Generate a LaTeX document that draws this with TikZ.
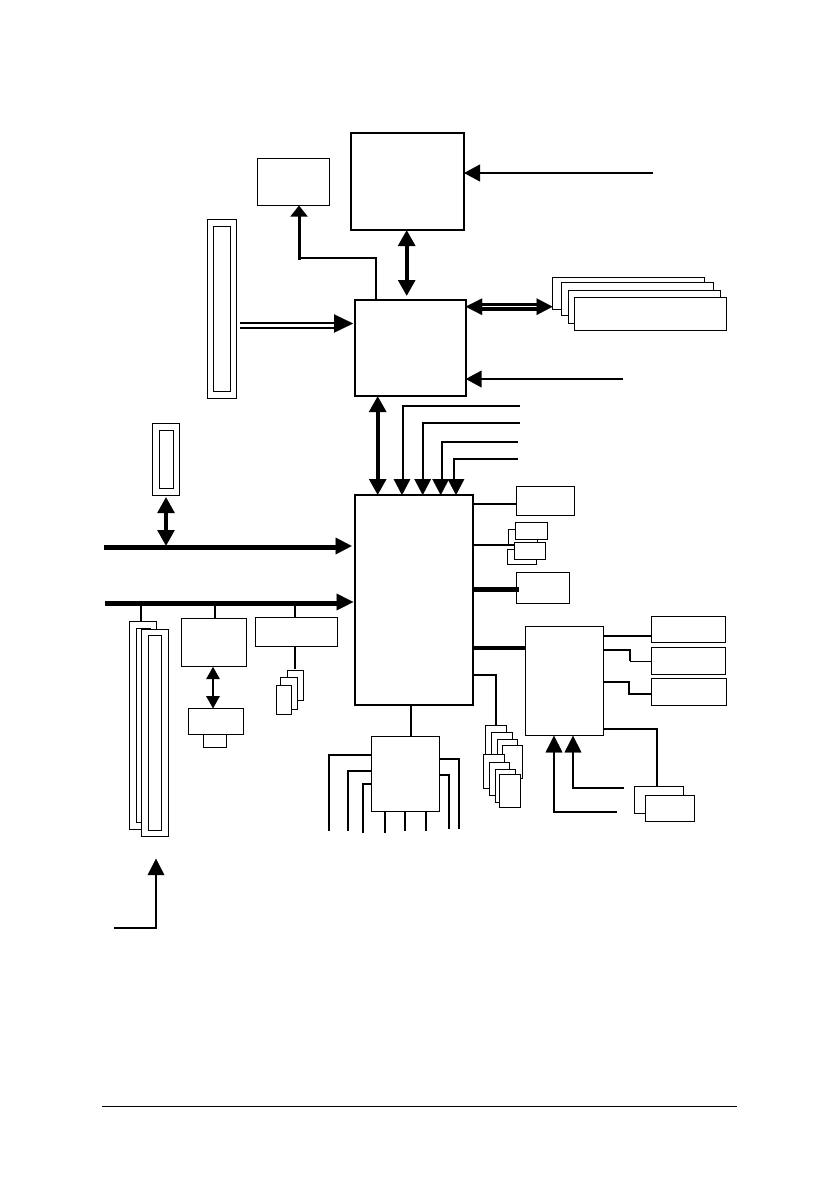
\documentclass[tikz,border=0pt]{standalone}
\usetikzlibrary{arrows.meta}
\tikzset{
  bxthin/.style={draw=black,fill=white,line width=.9pt,inner sep=0pt,outer sep=0pt,rectangle},
  bxthick/.style={bxthin,line width=1.8pt},
  wire/.style={line width=2pt,line join=miter},
  wirethin/.style={line width=1pt},
  wirefat/.style={line width=4.5pt},
  bigtip/.style={line width=2pt,-{Triangle[length=16pt,width=16.7pt]}},
  bothtip/.style={line width=#1,{Triangle[length=16pt,width=16.7pt]}-{Triangle[length=16pt,width=16.7pt]}},
  smalltip/.style={line width=2.4pt,{Triangle[length=12.5pt,width=13.3pt]}-{Triangle[length=12.5pt,width=13.3pt]}},
}
\newcommand\bx[6][bxthin]{%
  \pgfmathsetmacro\bxw{#5-#3}\pgfmathsetmacro\bxh{#6-#4}%
  \pgfmathsetmacro\bxcx{(#3+#5)/2}\pgfmathsetmacro\bxcy{(#4+#6)/2}%
  \node[#1,minimum width=\bxw pt,minimum height=\bxh pt] (#2) at (\bxcx,\bxcy) {};}
\begin{document}
\begin{tikzpicture}[x=1pt,y=-1pt]
\fill[white] (0,0) rectangle (839,1191);
\useasboundingbox (0,0) rectangle (839,1191);
% main chips
\bx[bxthick]{cpu}{351}{133}{464}{230}
\bx{vrm}{257.5}{158.5}{329.5}{205.5}
\bx[bxthick]{mch}{355}{300}{465.7}{396}
\bx[bxthick]{ich}{355}{495}{473.3}{705}
\bx{sio}{525.5}{626.5}{603.7}{735.7}
\bx{lpc}{371.5}{736.5}{439.7}{811.7}
% AGP slot
\bx{agp}{207.5}{219.5}{236.7}{398.3}
\bx{agpi}{213.5}{226.5}{230.7}{391.7}
% small slot
\bx{cnr}{152.5}{423.5}{179.7}{495.7}
\bx{cnri}{159.5}{430.5}{173.7}{488.7}
% DIMMs
\bx{ram1}{552.5}{277.5}{704.7}{309.3}
\bx{ram2}{561.5}{282.5}{713.7}{315.3}
\bx{ram3}{568.5}{290.5}{720.7}{323.3}
\bx{ram4}{574.5}{297.5}{726.7}{330.7}
% right of ICH
\bx{ra}{516.5}{486.5}{574.3}{515.7}
\bx{rb1}{508.5}{529.5}{537.7}{544.3}
\bx{rb2}{515.5}{522.5}{547.7}{539.7}
\bx{rb3}{507.5}{549.5}{536.7}{564.3}
\bx{rb4}{514.5}{542.7}{545.7}{559.3}
\bx{rc}{516.5}{572.5}{569.7}{603.7}
% right of Super I/O
\bx{io1}{651.5}{616.5}{725.7}{642.7}
\bx{io2}{651.5}{647.5}{725.7}{674.3}
\bx{io3}{651.5}{678.5}{726.7}{705.7}
\bx{kb1}{634.5}{786.5}{683.7}{813.3}
\bx{kb2}{645.5}{795.5}{694.7}{821.7}
% USB stack
\bx{us1}{485.5}{725.5}{506.7}{770}
\bx{us2}{491.5}{732.5}{512}{775}
\bx{us3}{497.5}{739.5}{517.7}{780}
\bx{us4}{502.5}{745.5}{522.7}{778.7}
\bx{us5}{483.5}{754.5}{504.7}{788.7}
\bx{us6}{489.5}{762.5}{509.7}{795.7}
\bx{us7}{495.5}{769}{515.7}{802.7}
\bx{us8}{499.5}{774.5}{520.7}{807.7}
% PCI slots
\bx{pa}{129.5}{621.5}{156.7}{829.3}
\bx{pai}{136.5}{628.5}{150}{822.3}
\bx{pb}{141.5}{629.5}{168.7}{836.7}
\bx{pbi}{148.5}{635.5}{161.7}{830.7}
% LAN
\bx{lan}{181.5}{618.5}{246.7}{666.7}
\bx{rj}{188.5}{708.5}{243.7}{734.7}
\bx{rjt}{203.5}{734.7}{226.7}{747.3}
% 1394
\bx{fw}{255.5}{617.5}{337.7}{646.3}
\bx{fw3}{287.5}{670.5}{303.7}{700.3}
\bx{fw2}{280.5}{677.5}{297.7}{709.3}
\bx{fw1}{276.5}{685.5}{291.7}{714.3}
% free ends
\coordinate (clkcpu) at (652.5,173);
\coordinate (clkmch) at (623,379);
\coordinate (in1) at (520,405.7);
\coordinate (in2) at (520,423);
\coordinate (in3) at (518,442);
\coordinate (in4) at (518,459);
\coordinate (bus1s) at (104,547.3);
\coordinate (bus2s) at (105,603.3);
\coordinate (pclk) at (114,928);
\coordinate (sa) at (616.7,812);
\coordinate (sb) at (624,788);
% top connectors
\draw[bigtip] (clkcpu) -- (cpu.east |- clkcpu);
\draw[bothtip=3.8pt] (cpu.south -| 406.7,0) -- (406.7,296);
\draw[wire] (mch.north -| 376,0) -- (376,258) -- (298,258);
\draw[line width=3pt,-{Triangle[length=11pt,width=16.7pt]}] (299,260) -- (vrm.south -| 299,0);
\draw[wire] (240,322.7) -- (336,322.7);
\draw[wire] (240,327.7) -- (336,327.7);
\draw[-{Triangle[length=19pt,width=18.4pt]},line width=.1pt] (334,323.5) -- (353,323.5);
% mch right
\draw[wire,line width=2.6pt] (482,304.5) -- (538,304.5);
\draw[wire,line width=2.6pt] (482,309.5) -- (538,309.5);
\draw[{Triangle[length=16.5pt,width=16.7pt]}-{Triangle[length=16pt,width=16.7pt]},line width=.1pt] (mch.east |- 0,306.7) -- (ram1.west |- 0,306.7);
\draw[bigtip] (clkmch) -- (mch.east |- clkmch);
% mch-ich
\draw[bothtip=3.6pt] (mch.south -| 377.7,0) -- (ich.north -| 377.7,0);
\draw[wire] (in1) -- (402.7,405.7) -- (402.7,482);
\draw[wire] (in2) -- (422.7,423) -- (422.7,482);
\draw[wire] (in3) -- (441.7,442) -- (441.7,482);
\draw[wire] (in4) -- (454,459) -- (454,482);
\foreach \hx in {402,422.7,440.7,456}
  \draw[-{Triangle[length=16pt,width=16.7pt]},line width=.1pt] (\hx,479) -- (ich.north -| \hx,0);
% ich right
\draw[wire] (ich.east |- 0,504) -- (ra.west |- 0,504);
\draw[wire] (ich.east |- 0,545) -- (rb4.west |- 0,545);
\draw[wirefat] (ich.east |- 0,589.3) -- (519,589.3);
\draw[line width=4pt] (ich.east |- 0,648) -- (sio.west |- 0,648);
\draw[wire] (ich.east |- 0,674.7) -- (495.7,674.7) -- (us1.north -| 495.7,0);
\draw[wire] (ich.south -| 410.7,0) -- (lpc.north -| 410.7,0);
% super i/o right
\draw[wire] (sio.east |- 0,635.7) -- (io1.west |- 0,635.7);
\draw[wire] (sio.east |- 0,650) -- (630,650) -- (630,661.3);
\draw[wirethin] (630,661.3) -- (io2.west |- 0,661.3);
\draw[wire] (sio.east |- 0,681.7) -- (629,681.7) -- (629,694) -- (io3.west |- 0,694);
\draw[wire] (sio.east |- 0,728.7) -- (657,728.7) -- (kb1.north -| 657,0);
\draw[wire] (sa) -- (554,812) -- (554,750);
\draw[-{Triangle[length=16.6pt,width=16.7pt]},line width=.1pt] (554,753) -- (sio.south -| 554,0);
\draw[wire] (sb) -- (573,788) -- (573,750);
\draw[-{Triangle[length=16.6pt,width=16.7pt]},line width=.1pt] (573,753) -- (sio.south -| 573,0);
% lpc
\draw[wire] (lpc.west |- 0,755) -- (329,755) -- (329,830.7);
\draw[wire] (lpc.west |- 0,770.7) -- (348,770.7) -- (348,830.7);
\draw[wire] (lpc.west |- 0,783.7) -- (363,783.7) -- (363,832.7);
\draw[wire] (lpc.south -| 384.7,0) -- (384.7,832.7);
\draw[wire] (lpc.south -| 405,0) -- (405,830.7);
\draw[wire] (lpc.south -| 426,0) -- (426,830.7);
\draw[wire] (lpc.east |- 0,759) -- (459,759) -- (459,828.7);
\draw[wire] (lpc.east |- 0,774.7) -- (449,774.7) -- (449,828.7);
% buses
\draw[line width=5pt] (bus1s) -- (337,547.3);
\draw[-{Triangle[length=16pt,width=16.7pt]},line width=.1pt] (335.7,546) -- (351.7,546);
\draw[line width=5pt] (bus2s) -- (338,603.3);
\draw[-{Triangle[length=16.6pt,width=16.7pt]},line width=.1pt] (336.7,602) -- (353.3,602);
\draw[bothtip=3.6pt] (cnr.south -| 166,0) ++(0,1.3) -- (166,546);
\draw[wire] (141,606) -- (pa.north -| 141,0);
\draw[wire] (215,606) -- (lan.north -| 215,0);
\draw[wire] (295,606) -- (fw.north -| 295,0);
\draw[wire] (fw.south -| 295,0) -- (295,669);
\draw[smalltip] (lan.south -| 213,0) -- (rj.north -| 213,0);
% pci clock
\draw[wire] (pclk) -- (156,928) -- (156,873);
\draw[-{Triangle[length=16.3pt,width=16.7pt]},line width=.1pt] (156,875) -- (156,858.7);
% footer rule
\coordinate (ruleL) at (102,1106.5);
\coordinate (ruleR) at (737,1106.5);
\draw[line width=.9pt] (ruleL) -- (ruleR);
\end{tikzpicture}
\end{document}
